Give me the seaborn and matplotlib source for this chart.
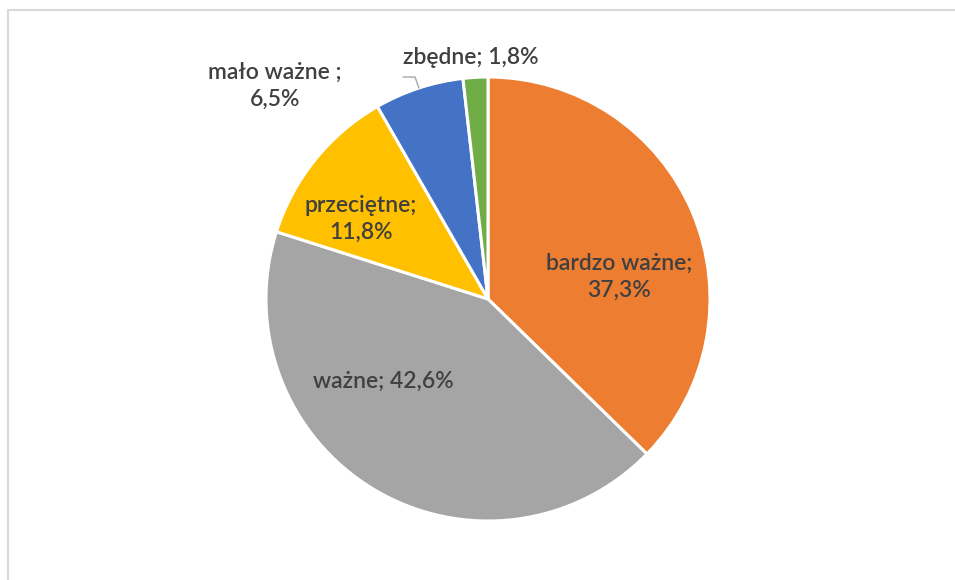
import matplotlib
matplotlib.use("Agg")
import matplotlib.pyplot as plt
from matplotlib.lines import Line2D
import seaborn as sns

categories = ["bardzo ważne", "ważne", "przeciętne", "mało ważne", "zbędne"]
values = [37.3, 42.6, 11.8, 6.5, 1.8]
label_texts = ["bardzo ważne;\n37,3%", "ważne; 42,6%", "przeciętne;\n11,8%",
               "mało ważne ;\n6,5%", "zbędne; 1,8%"]
colors = ["#ED7D31", "#A5A5A5", "#FFC000", "#4472C4", "#70AD47"]

sns.set_theme(style="white")
plt.rcParams['font.family'] = ['Lato', 'DejaVu Sans']

W, H = 955, 580
fig = plt.figure(figsize=(W / 100, H / 100), dpi=100)
fig.patch.set_facecolor("white")

cx, cy, R = 488, 299, 222
ax = fig.add_axes([(cx - R) / W, (H - cy - R) / H, 2 * R / W, 2 * R / H])

ax.pie(values, colors=colors, startangle=90, counterclock=False, radius=1,
       wedgeprops=dict(edgecolor="white", linewidth=2.2))
ax.set_xlim(-1, 1)
ax.set_ylim(-1, 1)
ax.set_aspect("equal")
ax.axis("off")

def px(x, y):
    return (x - cx) / R, (cy - y) / R

label_pos = [(619, 277), (383, 381), (361, 219), (275, 86), (471, 57)]
for txt, (x, y) in zip(label_texts, label_pos):
    dx, dy = px(x, y)
    ax.text(dx, dy, txt, ha="center", va="center", fontsize=16.5,
            fontweight="semibold", color="#404040", linespacing=1.35,
            clip_on=False)

# leader line for the small slice
lx, ly = zip(*[px(403, 77), px(415, 77), px(419, 88)])
ax.plot(lx, ly, color="#a6a6a6", lw=1, clip_on=False)

# chart area border (top and left visible)
fig.add_artist(Line2D([8 / W, 1], [1 - 10 / H, 1 - 10 / H], color="#d9d9d9", lw=1.5))
fig.add_artist(Line2D([8 / W, 8 / W], [0, 1 - 10 / H], color="#d9d9d9", lw=1.5))

fig.savefig("out.png", dpi=100, facecolor="white")
